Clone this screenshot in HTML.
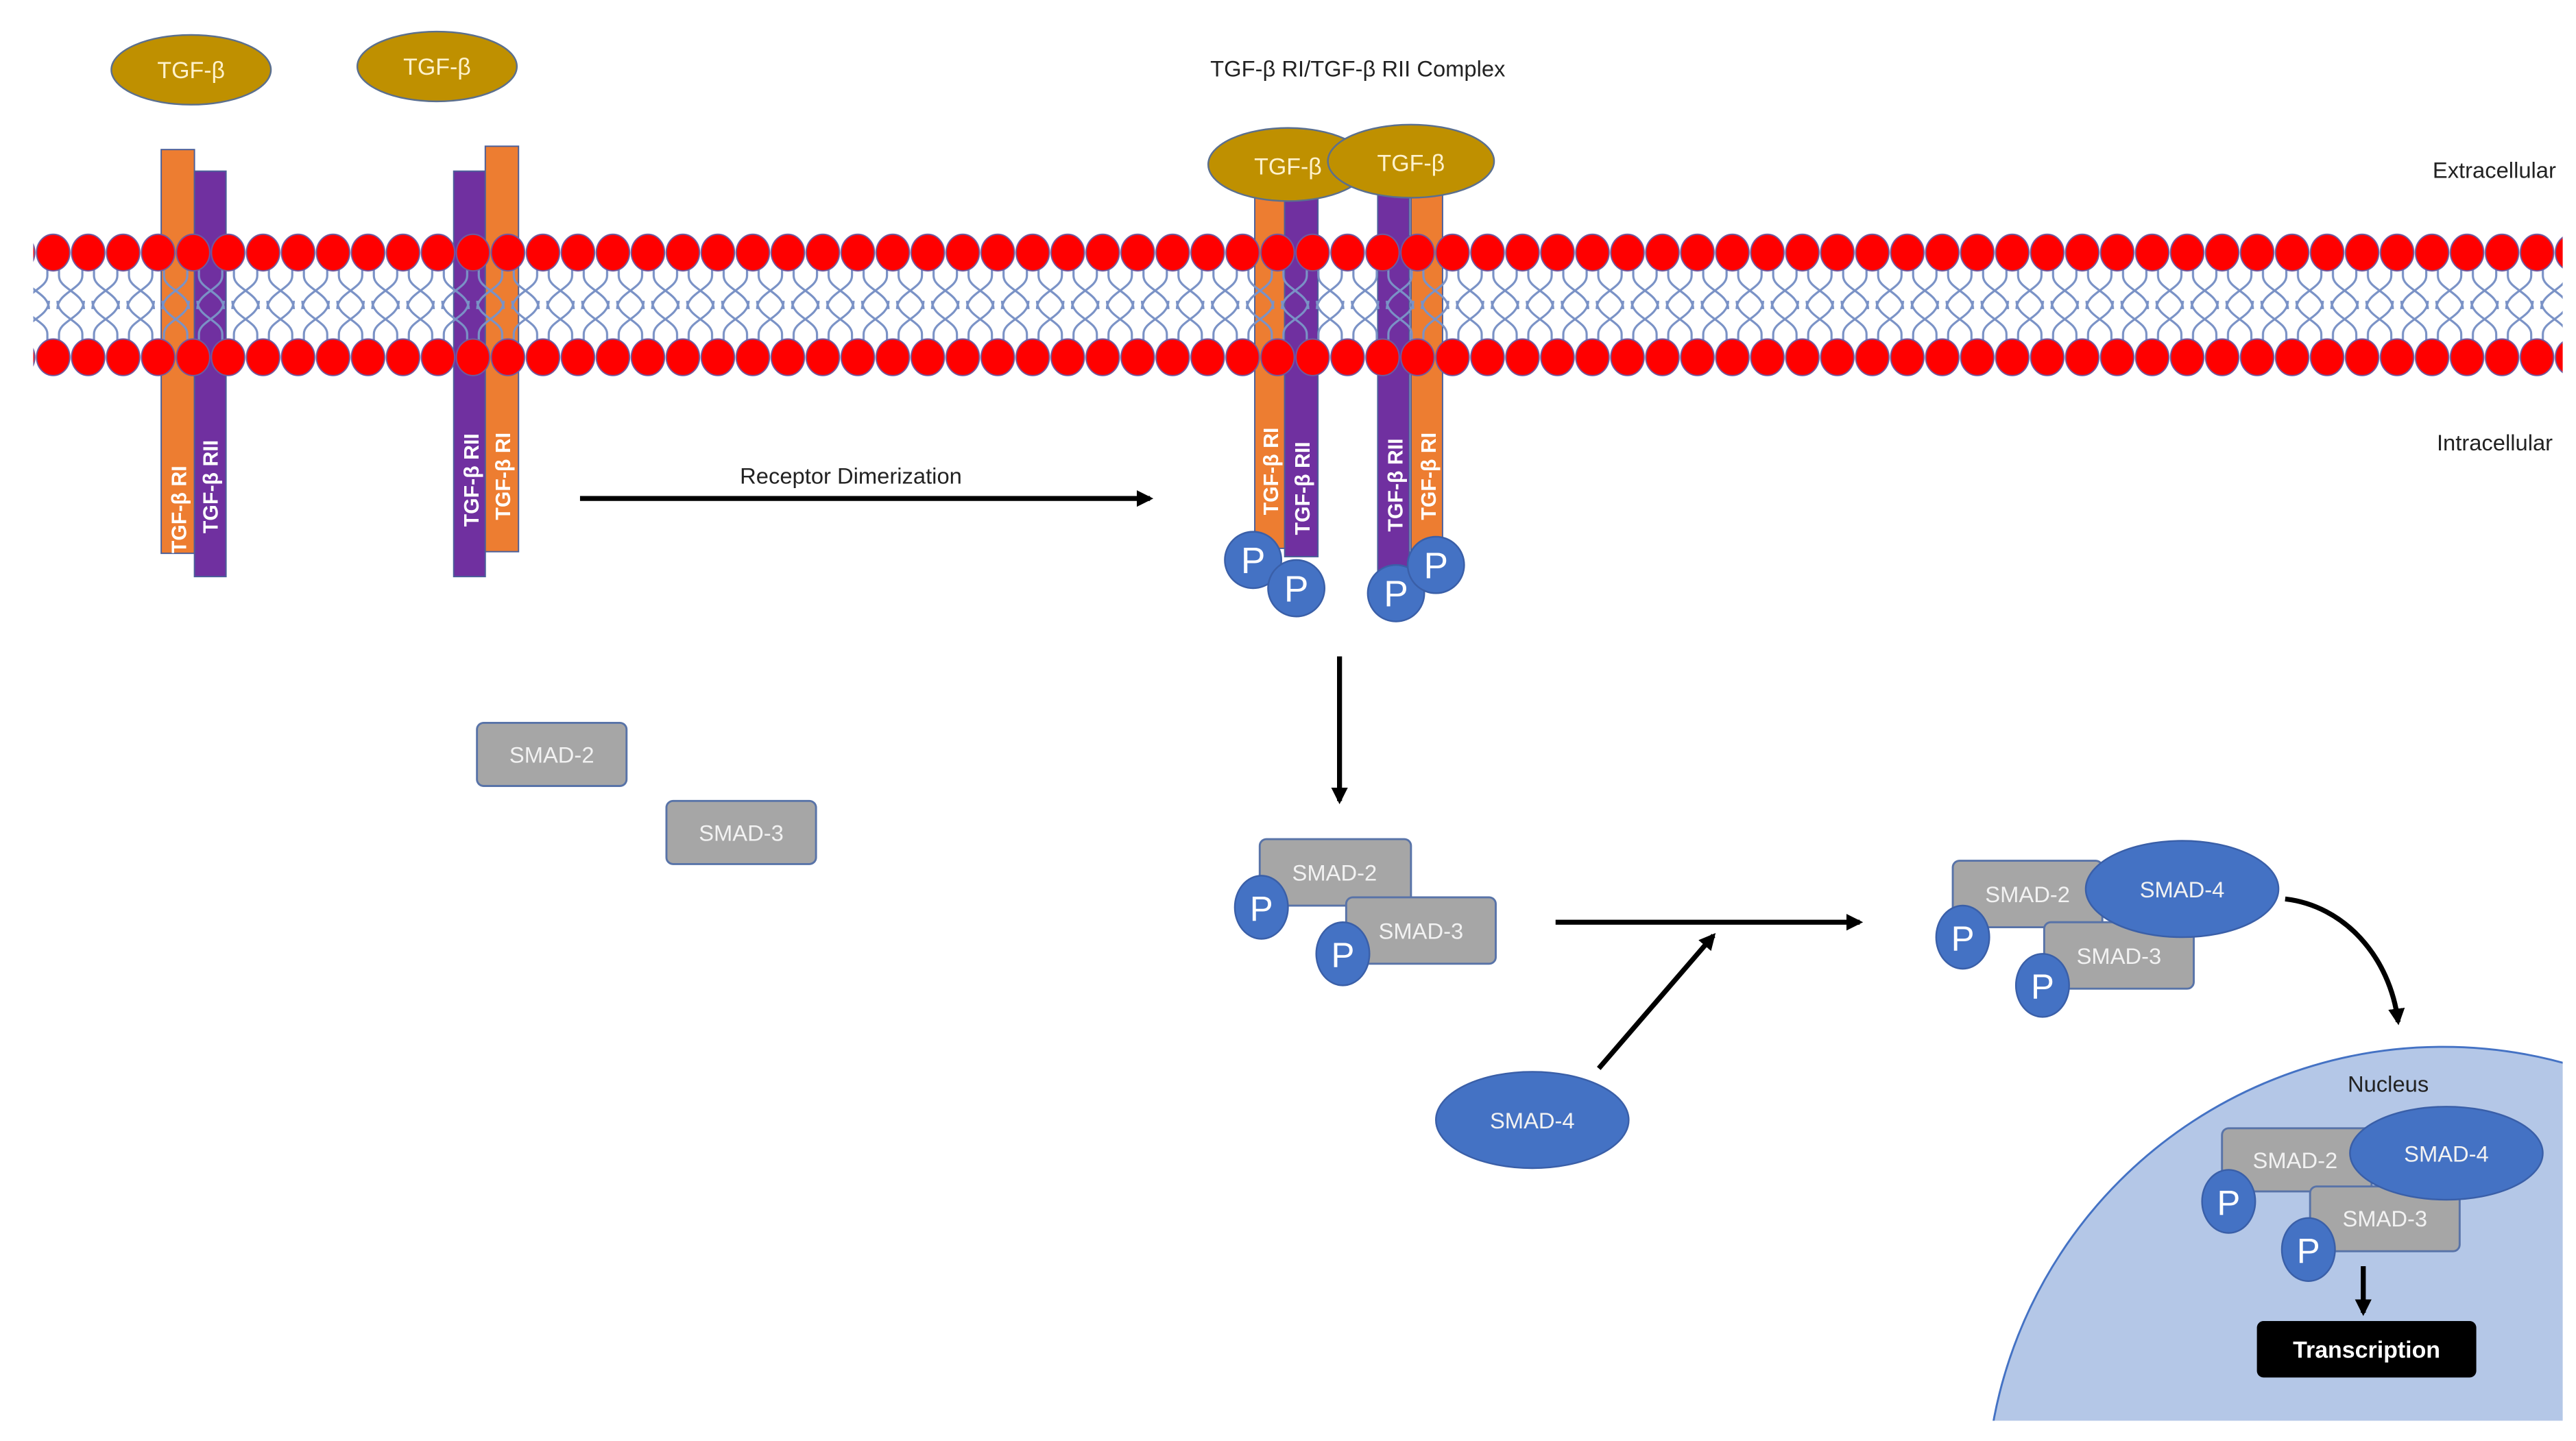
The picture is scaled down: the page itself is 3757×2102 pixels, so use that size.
<!DOCTYPE html>
<html><head><meta charset="utf-8"><style>
html,body{margin:0;padding:0;background:#fff;width:3757px;height:2102px;overflow:hidden;}
svg{display:block;}
text{font-family:"Liberation Sans",sans-serif;}
</style></head><body>
<svg width="3757" height="2102" viewBox="0 0 1550 867.2" xmlns="http://www.w3.org/2000/svg">
<defs>
<g id="tl" fill="none" stroke="#7a92c6" stroke-width="1.3">
<path d="M7,160 L7,166 C7,174 -8,176 -8,186"/><path d="M14,160 L14,166 C14,174 29,176 29,186"/>
<path d="M7,207 L7,201 C7,193 -8,191 -8,181"/><path d="M14,207 L14,201 C14,193 29,191 29,181"/>
</g>
<pattern id="heads" x="21.5" y="0" width="21.05" height="867.2" patternUnits="userSpaceOnUse">
<ellipse cx="10.5" cy="152" rx="10" ry="11" fill="#ff0000" stroke="#6d5aa0" stroke-width="0.8"/>
<ellipse cx="10.5" cy="215" rx="10" ry="11" fill="#ff0000" stroke="#6d5aa0" stroke-width="0.8"/>
</pattern>
<pattern id="tails" x="21.5" y="0" width="21.05" height="867.2" patternUnits="userSpaceOnUse">
<use href="#tl"/>
<use href="#tl" x="21.05"/>
<use href="#tl" x="-21.05"/>
</pattern>
<marker id="ah" markerWidth="10" markerHeight="10" refX="8" refY="5" orient="auto" markerUnits="userSpaceOnUse"><path d="M0,0 L10,5 L0,10 Z" fill="#000"/></marker>
</defs>

<circle cx="1470" cy="905" r="275" fill="#b4c7e7" stroke="#4472c4" stroke-width="1.2"/>
<rect x="1542" y="560" width="20" height="320" fill="#fff"/>
<rect x="1150" y="855" width="420" height="30" fill="#fff"/>

<g stroke="#4a5f9a" stroke-width="0.8">
<rect x="97" y="90" width="20" height="243" fill="#ed7d31"/>
<rect x="117" y="103" width="19" height="244" fill="#7030a0"/>
<rect x="273" y="103" width="19" height="244" fill="#7030a0"/>
<rect x="292" y="88" width="20" height="244" fill="#ed7d31"/>
<rect x="755" y="112" width="18" height="218" fill="#ed7d31"/>
<rect x="773" y="112" width="20" height="223" fill="#7030a0"/>
<rect x="829" y="112" width="19" height="233" fill="#7030a0"/>
<rect x="849" y="112" width="19" height="223" fill="#ed7d31"/>
</g>

<rect x="20" y="158" width="1522" height="52" fill="url(#tails)"/>
<rect x="20" y="138" width="1522" height="90" fill="url(#heads)"/>

<g fill="#fff" font-size="12.5" font-weight="bold">
<text transform="translate(112,333) rotate(-90)">TGF-β RI</text>
<text transform="translate(131,321) rotate(-90)">TGF-β RII</text>
<text transform="translate(288,317) rotate(-90)">TGF-β RII</text>
<text transform="translate(307,313) rotate(-90)">TGF-β RI</text>
<text transform="translate(769,310) rotate(-90)">TGF-β RI</text>
<text transform="translate(788,322) rotate(-90)">TGF-β RII</text>
<text transform="translate(844,320) rotate(-90)">TGF-β RII</text>
<text transform="translate(864,313) rotate(-90)">TGF-β RI</text>
</g>

<g fill="#bf9000" stroke="#5a6f8f" stroke-width="1">
<ellipse cx="115" cy="42" rx="48" ry="21"/>
<ellipse cx="263" cy="40" rx="48" ry="21"/>
<ellipse cx="775" cy="99" rx="48" ry="22"/>
<ellipse cx="849" cy="97" rx="50" ry="22"/>
</g>
<g fill="#fff2cc" font-size="14" text-anchor="middle">
<text x="115" y="47">TGF-β</text>
<text x="263" y="45">TGF-β</text>
<text x="775" y="105">TGF-β</text>
<text x="849" y="103">TGF-β</text>
</g>

<g fill="#222" font-size="13.5">
<text x="817" y="46" text-anchor="middle">TGF-β RI/TGF-β RII Complex</text>
<text x="1538" y="107" text-anchor="end">Extracellular</text>
<text x="1536" y="271" text-anchor="end">Intracellular</text>
<text x="512" y="291" text-anchor="middle">Receptor Dimerization</text>
<text x="1437" y="657" text-anchor="middle">Nucleus</text>
</g>

<g stroke="#000" stroke-width="3" fill="none">
<line x1="349" y1="300" x2="692" y2="300" marker-end="url(#ah)"/>
<line x1="806" y1="395" x2="806" y2="482" marker-end="url(#ah)"/>
<line x1="936" y1="555" x2="1119" y2="555" marker-end="url(#ah)"/>
<line x1="962" y1="643" x2="1031" y2="563" marker-end="url(#ah)"/>
<path d="M1375,541 C1410,545 1438,575 1443,615" marker-end="url(#ah)"/>
<line x1="1422" y1="762" x2="1422" y2="790" marker-end="url(#ah)"/>
</g>

<g fill="#4472c4" stroke="#3a5fa8" stroke-width="1">
<circle cx="754" cy="337" r="17"/><circle cx="780" cy="354" r="17"/>
<circle cx="840" cy="357" r="17"/><circle cx="864" cy="340" r="17"/>
</g>
<g fill="#fff" font-size="22" text-anchor="middle">
<text x="754" y="345">P</text><text x="780" y="362">P</text>
<text x="840" y="365">P</text><text x="864" y="348">P</text>
</g>

<g fill="#a6a6a6" stroke="#5873a8" stroke-width="1.2">
<rect x="287" y="435" width="90" height="38" rx="4"/>
<rect x="401" y="482" width="90" height="38" rx="4"/>
<rect x="758" y="505" width="91" height="40" rx="4"/>
<rect x="810" y="540" width="90" height="40" rx="4"/>
<rect x="1175" y="518" width="90" height="40" rx="4"/>
<rect x="1230" y="555" width="90" height="40" rx="4"/>
<rect x="1337" y="679" width="90" height="38" rx="4"/>
<rect x="1390" y="714" width="90" height="39" rx="4"/>
</g>
<g fill="#4472c4" stroke="#3a5fa8" stroke-width="1">
<ellipse cx="922" cy="674" rx="58" ry="29"/>
<ellipse cx="1313" cy="535" rx="58" ry="29"/>
<ellipse cx="1472" cy="694" rx="58" ry="28"/>
<ellipse cx="759" cy="546" rx="16" ry="19"/>
<ellipse cx="808" cy="574" rx="16" ry="19"/>
<ellipse cx="1181" cy="564" rx="16" ry="19"/>
<ellipse cx="1229" cy="593" rx="16" ry="19"/>
<ellipse cx="1341" cy="723" rx="16" ry="19"/>
<ellipse cx="1389" cy="752" rx="16" ry="19"/>
</g>
<g fill="#f2f2f2" font-size="13.5" text-anchor="middle">
<text x="332" y="459">SMAD-2</text>
<text x="446" y="506">SMAD-3</text>
<text x="803" y="530">SMAD-2</text>
<text x="855" y="565">SMAD-3</text>
<text x="1220" y="543">SMAD-2</text>
<text x="1275" y="580">SMAD-3</text>
<text x="1381" y="703">SMAD-2</text>
<text x="1435" y="738">SMAD-3</text>
<text x="922" y="679">SMAD-4</text>
<text x="1313" y="540">SMAD-4</text>
<text x="1472" y="699">SMAD-4</text>
</g>
<g fill="#fff" font-size="21" text-anchor="middle">
<text x="759" y="554">P</text><text x="808" y="582">P</text>
<text x="1181" y="572">P</text><text x="1229" y="601">P</text>
<text x="1341" y="731">P</text><text x="1389" y="760">P</text>
</g>

<rect x="1358" y="795" width="132" height="34" rx="4" fill="#000"/>
<text x="1424" y="817" fill="#fff" font-size="14" font-weight="bold" text-anchor="middle">Transcription</text>
</svg>
</body></html>
